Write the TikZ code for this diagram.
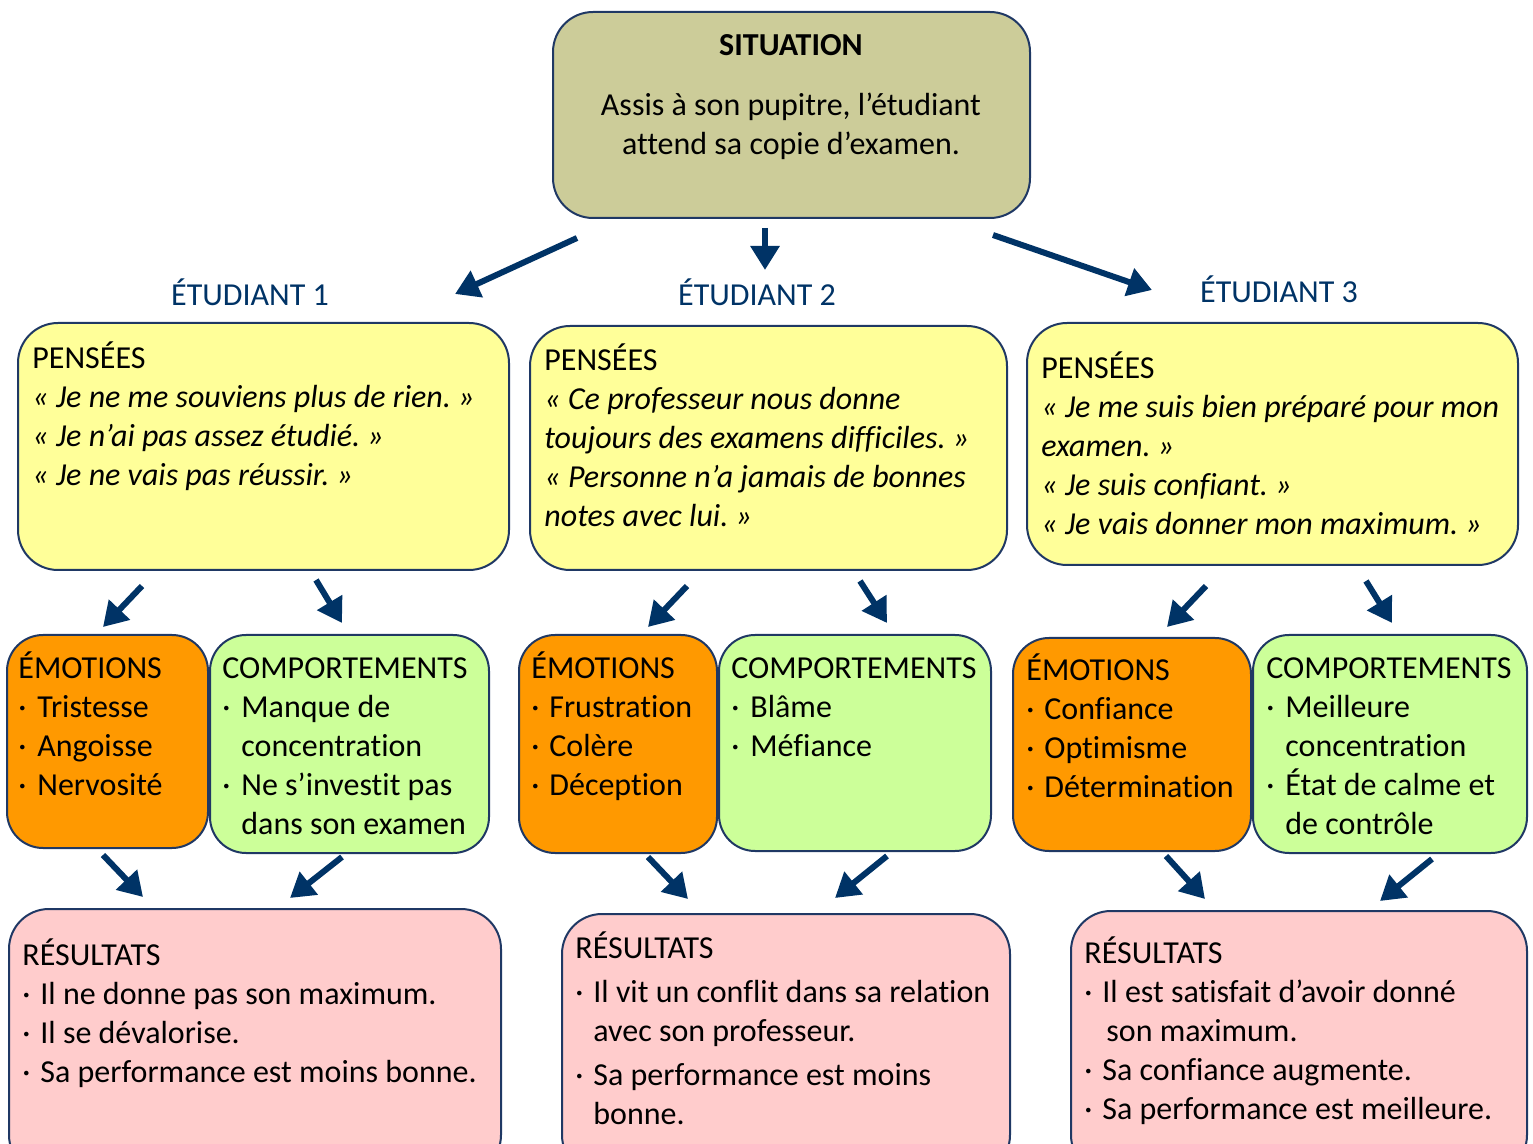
\documentclass[tikz,border=0pt]{standalone}
\usepackage{fontspec}
\setmainfont{Carlito}[Ligatures=NoCommon]
\usetikzlibrary{arrows.meta,fit}
\definecolor{bord}{RGB}{31,56,100}
\definecolor{arrc}{RGB}{0,51,102}
\definecolor{sitfill}{RGB}{204,204,153}
\definecolor{pensfill}{RGB}{255,255,153}
\definecolor{emofill}{RGB}{255,153,0}
\definecolor{compfill}{RGB}{204,255,153}
\definecolor{resfill}{RGB}{255,204,204}
\newcommand\bu[1]{\makebox[#1][l]{·}}
\frenchspacing
\begin{document}
\frenchspacing
\begin{tikzpicture}[x=0.5pt,y=-0.5pt,
  box/.style={draw=bord, line width=1pt, rounded corners=20pt, inner sep=0pt},
  txt/.style={anchor=north west, inner sep=0pt, align=left, font=\fontsize{16}{19.5}\selectfont},
  ctxt/.style={inner sep=0pt, align=center, font=\fontsize{16}{19.5}\selectfont},
  head/.style={inner sep=0pt, text=arrc, font=\fontsize{16}{19.5}\selectfont},
  arr/.style={draw=arrc, line width=3pt, -{Triangle[length=12pt,width=14pt]}}]
\useasboundingbox (0,0) rectangle (1533,1144);
\clip (0,0) rectangle (1533,1144);
% boxes
\node[box, fill=sitfill, fit={(553,12)(1030,218)}] (sit) {};
\node[box, fill=pensfill, fit={(18,323)(509,570)}] (p1) {};
\node[box, fill=pensfill, fit={(530,326)(1007,570)}] (p2) {};
\node[box, fill=pensfill, fit={(1027,323)(1518,565)}] (p3) {};
\node[box, fill=emofill, rounded corners=18pt, fit={(7,635)(208,848)}] (e1) {};
\node[box, fill=compfill, rounded corners=18pt, fit={(210,635)(489,853)}] (c1) {};
\node[box, fill=emofill, rounded corners=18pt, fit={(519,635)(717,853)}] (e2) {};
\node[box, fill=compfill, rounded corners=18pt, fit={(719,635)(991,851)}] (c2) {};
\node[box, fill=emofill, rounded corners=18pt, fit={(1013,638)(1251,851)}] (e3) {};
\node[box, fill=compfill, rounded corners=18pt, fit={(1253,635)(1527,853)}] (c3) {};
\node[box, fill=resfill, fit={(9,909)(501,1175)}] (r1) {};
\node[box, fill=resfill, fit={(562,914)(1010,1175)}] (r2) {};
\node[box, fill=resfill, fit={(1071,911)(1527,1175)}] (r3) {};
% situation text
\node[ctxt, font=\fontsize{16}{19.5}\selectfont\bfseries] (sittitle) at (791,45) {SITUATION};
\node[ctxt] (sittext) at (791,126) {Assis à son pupitre, l’étudiant\\attend sa copie d’examen.};
% headers
\node[head] (h1) at (250,292) {ÉTUDIANT 1};
\node[head] (h2) at (757,292) {ÉTUDIANT 2};
\node[head] (h3) at (1279,289) {ÉTUDIANT 3};
% pensees
\node[txt] (tp1) at (32,341) {\strut PENSÉES\\
\textit{« Je ne me souviens plus de rien. »}\\
\textit{« Je n’ai pas assez étudié. »}\\
\textit{« Je ne vais pas réussir. »}};
\node[txt] (tp2) at (544,343) {\strut PENSÉES\\
\textit{« Ce professeur nous donne}\\
\textit{toujours des examens difficiles. »}\\
\textit{« Personne n’a jamais de bonnes}\\
\textit{notes avec lui. »}};
\node[txt] (tp3) at (1041,351) {\strut PENSÉES\\
\textit{« Je me suis bien préparé pour mon}\\
\textit{examen. »}\\
\textit{« Je suis confiant. »}\\
\textit{« Je vais donner mon maximum. »}};
% emotions / comportements
\node[txt] (te1) at (18,651) {\strut ÉMOTIONS\\
\bu{9.5pt}Tristesse\\ \bu{9.5pt}Angoisse\\ \bu{9.5pt}Nervosité};
\node[txt] (tc1) at (222,651) {\strut COMPORTEMENTS\\
\bu{9.5pt}Manque de\\ \hspace*{9.5pt}concentration\\
\bu{9.5pt}Ne s’investit pas\\ \hspace*{9.5pt}dans son examen};
\node[txt] (te2) at (531,651) {\strut ÉMOTIONS\\
\bu{9pt}Frustration\\ \bu{9pt}Colère\\ \bu{9pt}Déception};
\node[txt] (tc2) at (731,651) {\strut COMPORTEMENTS\\
\bu{9.5pt}Blâme\\ \bu{9.5pt}Méfiance};
\node[txt] (te3) at (1026,653) {\strut ÉMOTIONS\\
\bu{9pt}Confiance\\ \bu{9pt}Optimisme\\ \bu{9pt}Détermination};
\node[txt] (tc3) at (1266,651) {\strut COMPORTEMENTS\\
\bu{9.5pt}Meilleure\\ \hspace*{9.5pt}concentration\\
\bu{9.5pt}État de calme et\\ \hspace*{9.5pt}de contrôle};
% resultats
\node[txt] (tr1) at (22,938) {\strut RÉSULTATS\\
\bu{9pt}Il ne donne pas son maximum.\\
\bu{9pt}Il se dévalorise.\\
\bu{9pt}Sa performance est moins bonne.};
\node[txt] (tr2) at (575,931) {\strut RÉSULTATS\\[2.5pt]
\bu{9pt}Il vit un conflit dans sa relation\\
\hspace*{9pt}avec son professeur.\\[2.5pt]
\bu{9pt}Sa performance est moins\\
\hspace*{9pt}bonne.};
\node[txt] (tr3) at (1084,936) {\strut RÉSULTATS\\
\bu{9pt}Il est satisfait d’avoir donné\\
\hspace*{11pt}son maximum.\\
\bu{9pt}Sa confiance augmente.\\
\bu{9pt}Sa performance est meilleure.};
% arrow endpoints
\coordinate (a1s) at (577,238); \coordinate (a1e) at (455,294);
\coordinate (a2s) at (765,228); \coordinate (a2e) at (765,270);
\coordinate (a3s) at (993,235); \coordinate (a3e) at (1152,290);
\coordinate (b1s) at (142,586); \coordinate (b1e) at (103,627);
\coordinate (b2s) at (316,580); \coordinate (b2e) at (342,623);
\coordinate (b3s) at (687,586); \coordinate (b3e) at (648,627);
\coordinate (b4s) at (860,581); \coordinate (b4e) at (887,623);
\coordinate (b5s) at (1206,586); \coordinate (b5e) at (1167,627);
\coordinate (b6s) at (1366,581); \coordinate (b6e) at (1392,623);
\coordinate (c1s) at (103,855); \coordinate (c1e) at (143,897);
\coordinate (c2s) at (342,857); \coordinate (c2e) at (290,898);
\coordinate (c3s) at (648,857); \coordinate (c3e) at (688,899);
\coordinate (c4s) at (887,856); \coordinate (c4e) at (835,898);
\coordinate (c5s) at (1166,856); \coordinate (c5e) at (1205,899);
\coordinate (c6s) at (1432,859); \coordinate (c6e) at (1380,901);
\foreach \s/\e in {a1s/a1e,a2s/a2e,a3s/a3e,b1s/b1e,b2s/b2e,b3s/b3e,b4s/b4e,b5s/b5e,b6s/b6e,c1s/c1e,c2s/c2e,c3s/c3e,c4s/c4e,c5s/c5e,c6s/c6e}
  \draw[arr] (\s) -- (\e);
\end{tikzpicture}
\end{document}
